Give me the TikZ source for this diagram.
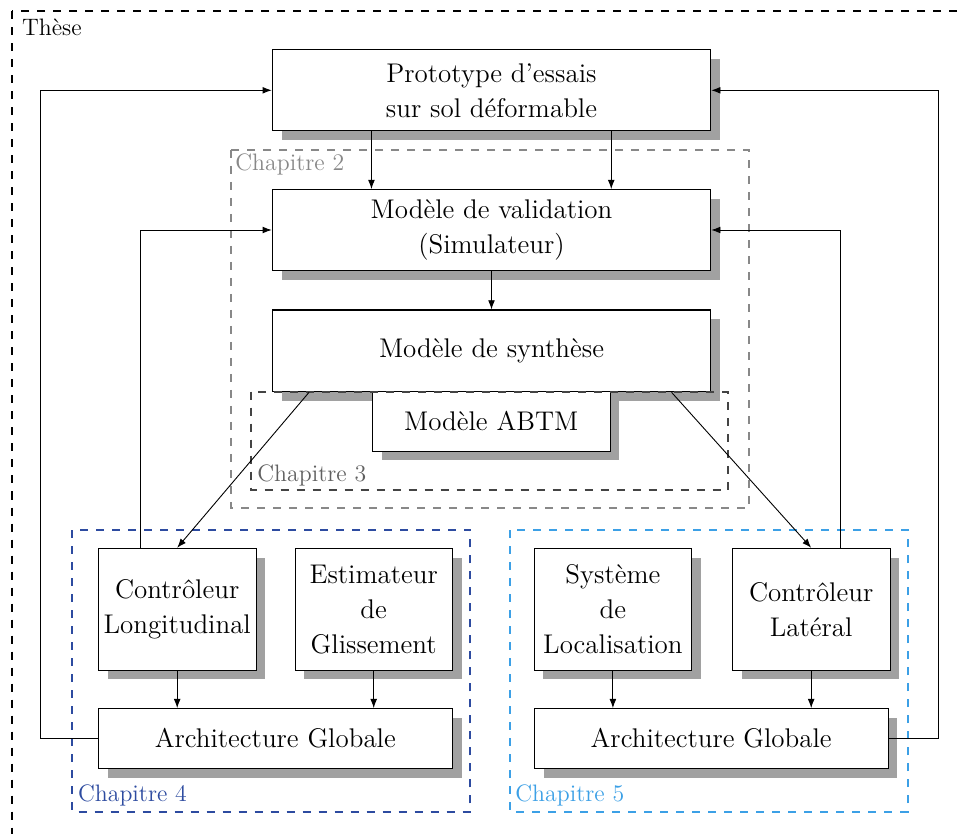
\documentclass[tikz,border=0pt]{standalone}
\usepackage{fontspec}
\usetikzlibrary{arrows.meta,shadows}
\definecolor{chtwo}{RGB}{136,136,136}
\definecolor{chthree}{RGB}{68,68,68}
\definecolor{chfour}{RGB}{45,75,160}
\definecolor{chfive}{RGB}{60,160,230}
\newcommand{\mainfs}{\fontsize{13.5}{17.5}\selectfont}
\newcommand{\lblfs}{\fontsize{11.9}{14}\selectfont}
\begin{document}
\begin{tikzpicture}[x=0.5pt,y=-0.5pt,
  box/.style={draw=black, line width=0.55pt, fill=white, inner sep=0pt, align=center, font=\mainfs,
    drop shadow={shadow xshift=4.65pt, shadow yshift=-4.65pt, fill=black!37, opacity=1, draw=none}},
  arr/.style={line width=0.45pt, -{Latex[length=4.6pt,width=3.4pt]}},
  chap/.style={line width=1pt, dash pattern=on 4pt off 4pt},
  lbl/.style={anchor=base west, inner sep=0pt, font=\lblfs}]
\clip (0,0) rectangle (959,834);
\fill[white] (0,0) rectangle (959,834);

% outer frame
\draw[chap, black] (12,11.5) rectangle (980,860);
\node[lbl] (these) at (21.7,36) {Thèse};

% nodes
\node[box, minimum width=219.2pt, minimum height=40.35pt] (proto) at (491.5,90.3) {Prototype d’essais\\sur sol déformable};
\node[box, minimum width=219.2pt, minimum height=40.35pt] (valid) at (491.5,230) {Modèle de validation\\(Simulateur)};
\node[box, minimum width=219.2pt, minimum height=40.85pt] (synth) at (491.5,350.9) {Modèle de synthèse};
\node[box, minimum width=118.85pt, minimum height=29.65pt] (abtm) at (491.2,421.4) {Modèle ABTM};

\node[box, minimum width=78.85pt, minimum height=60.85pt] (clong) at (177.2,609.2) {Contrôleur\\Longitudinal};
\node[box, minimum width=78.65pt, minimum height=60.85pt] (estim) at (373.7,609.2) {Estimateur\\de\\Glissement};
\node[box, minimum width=177pt, minimum height=29.8pt] (archL) at (275.3,738.5) {Architecture Globale};

\node[box, minimum width=78.85pt, minimum height=60.85pt] (sys) at (612.9,609.2) {Système\\de\\Localisation};
\node[box, minimum width=78.85pt, minimum height=60.85pt] (clat) at (811.2,609.2) {Contrôleur\\Latéral};
\node[box, minimum width=176.85pt, minimum height=29.8pt] (archR) at (711.2,738.5) {Architecture Globale};

% chapter frames
\draw[chap, chtwo] (231,150) rectangle (749.3,507.7);
\node[lbl, text=chtwo] (ch2) at (235,171) {Chapitre 2};
\draw[chap, chthree] (251,391.7) rectangle (728.3,490);
\node[lbl, text=chthree!85] (ch3) at (257,481) {Chapitre 3};
\draw[chap, chfour] (72.3,530) rectangle (470.3,811.7);
\node[lbl, text=chfour] (ch4) at (77.7,801.7) {Chapitre 4};
\draw[chap, chfive] (510,530) rectangle (907.7,811.7);
\node[lbl, text=chfive] (ch5) at (515,801.7) {Chapitre 5};

% connectors
\draw[arr] ([xshift=49.85pt]proto.south west) -- ([xshift=49.85pt]valid.north west);
\draw[arr] ([xshift=-50pt]proto.south east) -- ([xshift=-50pt]valid.north east);
\draw[arr] (valid.south) -- (synth.north);
\draw[arr] ([xshift=18.65pt]synth.south west) -- (clong.north);
\draw[arr] ([xshift=-19.85pt]synth.south east) -- (clat.north);
\draw[arr] ([xshift=21.35pt]clong.north west) |- (valid.west);
\draw[arr] ([xshift=-25pt]clat.north east) |- (valid.east);
\draw[arr] (archL.west) -- ++(-28.8pt,0) |- (proto.west);
\draw[arr] (archR.east) -- ++(24.85pt,0) |- (proto.east);
\draw[arr] (clong.south) -- (clong.south |- archL.north);
\draw[arr] (estim.south) -- (estim.south |- archL.north);
\draw[arr] (sys.south) -- (sys.south |- archR.north);
\draw[arr] (clat.south) -- (clat.south |- archR.north);
\end{tikzpicture}
\end{document}
